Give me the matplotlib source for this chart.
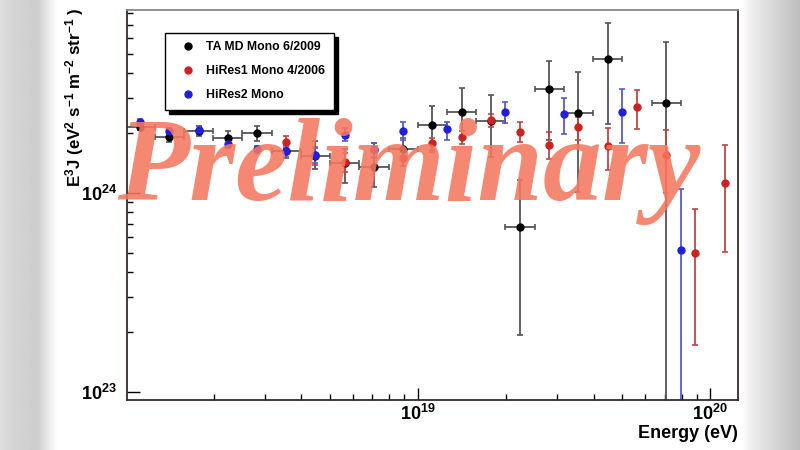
import numpy as np
import matplotlib
matplotlib.use("Agg")
import matplotlib.pyplot as plt
from matplotlib.ticker import LogLocator, NullFormatter, FuncFormatter

plt.rcParams['font.family'] = ['Liberation Sans', 'DejaVu Sans']
plt.rcParams['mathtext.fontset'] = 'custom'
plt.rcParams['mathtext.rm'] = 'Liberation Sans:bold'
plt.rcParams['mathtext.it'] = 'Liberation Sans:bold'
plt.rcParams['mathtext.bf'] = 'Liberation Sans:bold'

# E^3 J in units of 1e24 eV^2 s^-1 m^-2 sr^-1, energy as log10(E/eV)
ta_loge = [18.05, 18.15, 18.25, 18.35, 18.45, 18.55, 18.65, 18.75, 18.85, 18.95,
           19.05, 19.15, 19.25, 19.35, 19.45, 19.55, 19.65, 19.85]
ta_flux = [2.15, 1.91, 2.05, 1.89, 2.00, 1.63, 1.53, 1.42, 1.35, 1.66,
           2.20, 2.55, 2.30, 0.675, 3.33, 2.52, 4.71, 2.83]
ta_lo = [2.07, 1.80, 1.93, 1.72, 1.83, 1.50, 1.32, 1.12, 1.07, 1.47,
         1.64, 1.91, 1.52, 0.193, 1.85, 1.01, 2.22, 0.01]
ta_hi = [2.22, 2.03, 2.17, 2.05, 2.17, 1.76, 1.83, 1.66, 1.78, 1.89,
         2.74, 3.37, 3.11, 1.16, 4.61, 4.06, 7.15, 5.74]

hr1_loge = [18.55, 18.65, 18.75, 18.85, 18.95, 19.05, 19.15, 19.25, 19.35, 19.45,
            19.55, 19.65, 19.75, 19.85, 19.95, 20.05]
hr1_flux = [1.80, 1.55, 1.43, 1.64, 1.50, 1.78, 1.91, 2.33, 2.03, 1.74,
            2.15, 1.72, 2.71, 1.55, 0.500, 1.12]
hr1_lo = [1.68, 1.38, 1.27, 1.50, 1.37, 1.61, 1.76, 2.15, 1.80, 1.48,
          1.85, 1.30, 2.10, 1.00, 0.172, 0.505]
hr1_hi = [1.93, 1.70, 1.59, 1.78, 1.62, 1.89, 2.05, 2.49, 2.27, 2.03,
          2.41, 2.12, 3.29, 2.07, 0.831, 1.74]

hr2_loge = [18.05, 18.15, 18.25, 18.35, 18.45, 18.55, 18.65, 18.75, 18.85, 18.95,
            19.1, 19.3, 19.5, 19.7, 19.9]
hr2_flux = [2.27, 2.05, 2.07, 1.76, 1.66, 1.63, 1.55, 1.96, 1.66, 2.05,
            2.10, 2.55, 2.49, 2.55, 0.517]
hr2_lo = [2.20, 1.98, 1.98, 1.68, 1.59, 1.52, 1.42, 1.83, 1.52, 1.85,
          1.85, 2.25, 1.98, 1.78, 0.01]
hr2_hi = [2.35, 2.12, 2.17, 1.85, 1.72, 1.72, 1.68, 2.12, 1.78, 2.27,
          2.27, 2.87, 3.00, 3.33, 1.05]

ta_label = "TA MD Mono 6/2009"
hr1_label = "HiRes1 Mono 4/2006"
hr2_label = "HiRes2 Mono"
bin_half = 0.05

fig = plt.figure(figsize=(8, 4.5), dpi=100)
fig.patch.set_facecolor('white')

# blurred grey borders of the video frame
bg_l = fig.add_axes([0, 0, 58 / 800, 1], zorder=-5)
grad_l = np.interp(np.linspace(0, 58, 60), [0, 15, 38, 50, 58], [222, 212, 205, 238, 255])
bg_l.imshow(np.tile(grad_l, (10, 1)), cmap='gray', vmin=0, vmax=255, aspect='auto',
            extent=[0, 1, 0, 1])
bg_l.axis('off')
bg_r = fig.add_axes([742 / 800, 0, 58 / 800, 1], zorder=-5)
grad_r = np.interp(np.linspace(0, 58, 60), [0, 8, 25, 58], [255, 240, 222, 190])
bg_r.imshow(np.tile(grad_r, (10, 1)), cmap='gray', vmin=0, vmax=255, aspect='auto',
            extent=[0, 1, 0, 1])
bg_r.axis('off')

ax = fig.add_axes([127 / 800, 1 - 400 / 450, 611 / 800, 390 / 450])


def draw(loge, flux, lo, hi, mcol, ecol, label, xbar):
    e = 10 ** np.array(loge)
    y = np.array(flux) * 1e24
    yerr = [y - np.array(lo) * 1e24, np.array(hi) * 1e24 - y]
    xerr = None
    if xbar:
        xerr = [e - e * 10 ** -bin_half, e * 10 ** bin_half - e]
    c = ax.errorbar(e, y, yerr=yerr, xerr=xerr, fmt='o', ms=5, mfc=mcol, mec=mcol,
                    ecolor=ecol, elinewidth=1.3, capsize=2, capthick=1.2, label=label)
    return c


c1 = draw(ta_loge, ta_flux, ta_lo, ta_hi, 'black', '#555555', ta_label, True)
c2 = draw(hr1_loge, hr1_flux, hr1_lo, hr1_hi, '#cc2222', '#c04545', hr1_label, False)
c3 = draw(hr2_loge, hr2_flux, hr2_lo, hr2_hi, '#1f1fdd', '#5a5ad0', hr2_label, False)

ax.set_xscale('log')
ax.set_yscale('log')
ax.set_xlim(10 ** 18.005, 10 ** 20.096)
ax.set_ylim(10 ** 22.96, 10 ** 24.92)

fmt = FuncFormatter(lambda v, p: r'$10^{%d}$' % round(np.log10(v)))
for axis in (ax.xaxis, ax.yaxis):
    axis.set_major_locator(LogLocator(base=10))
    axis.set_minor_locator(LogLocator(base=10, subs=np.arange(2, 10)))
    axis.set_major_formatter(fmt)
    axis.set_minor_formatter(NullFormatter())
ax.tick_params(which='both', direction='in', top=False, right=False, labelsize=13)
ax.tick_params(which='major', length=9, width=1)
ax.tick_params(which='minor', length=4.5, width=1)
ax.tick_params(axis='x', pad=3)
ax.tick_params(axis='y', pad=7)
for s in ax.spines.values():
    s.set_color('#3a2a2a')
    s.set_linewidth(1.3)
ax.spines['top'].set_color('#888888')

fig.text(75 / 800, 1 - 97 / 450,
         r'E$^{3}$J (eV$^{2}$ s$^{-1}$ m$^{-2}$ str$^{-1}$ )',
         rotation=90, ha='center', va='center', fontsize=12.2, fontweight='bold')
fig.text(738 / 800, 1 - 433 / 450, 'Energy (eV)', ha='right', va='center',
         fontsize=13, fontweight='bold')

leg = ax.legend([c1.lines[0], c2.lines[0], c3.lines[0]], [ta_label, hr1_label, hr2_label],
                loc='upper left', bbox_to_anchor=(0.062, 0.942),
                prop={'weight': 'bold', 'size': 8.8}, frameon=True, fancybox=False,
                edgecolor='black', borderpad=0.7, labelspacing=0.98, handlelength=2.4,
                handletextpad=0.3, borderaxespad=0,
                shadow={'color': 'black', 'alpha': 1, 'ox': 3, 'oy': -3})
leg.get_frame().set_linewidth(1)

fig.text(117 / 800, 1 - 200 / 450, 'Preliminary', fontfamily='Liberation Serif',
         fontweight='bold', style='italic', fontsize=85, color='#f4785f', alpha=0.88,
         ha='left', va='baseline', zorder=10)

fig.savefig('out.png', dpi=100)
